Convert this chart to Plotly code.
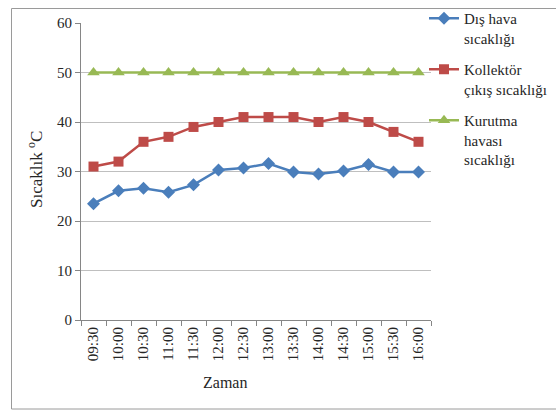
import plotly.graph_objects as go

# Time of day (half-hour steps)
times = ["09:30", "10:00", "10:30", "11:00", "11:30", "12:00", "12:30",
         "13:00", "13:30", "14:00", "14:30", "15:00", "15:30", "16:00"]

# Temperatures in °C
dis_hava = [23.5, 26.1, 26.6, 25.8, 27.3, 30.3, 30.7, 31.6, 29.9, 29.5, 30.1, 31.4, 29.9, 29.9]
kollektor = [31, 32, 36, 37, 39, 40, 41, 41, 41, 40, 41, 40, 38, 36]
kurutma = [50, 50, 50, 50, 50, 50, 50, 50, 50, 50, 50, 50, 50, 50]

series_names = ["Dış hava<br>sıcaklığı", "Kollektör<br>çıkış sıcaklığı", "Kurutma<br>havası<br>sıcaklığı"]

FONT = "Liberation Serif, DejaVu Serif, serif"
TXT = "#262626"
W, H = 556, 410
L, R, T, B = 81, 125, 23, 90
pw, ph = W - L - R, H - T - B


def px_x(px):
    return (px - L) / pw


def px_y(py):
    return (H - B - py) / ph


fig = go.Figure()
fig.add_trace(go.Scatter(
    x=times, y=dis_hava, name=series_names[0], mode="lines+markers", legendgroup="a",
    line=dict(color="#4A7EBB", width=2.5),
    marker=dict(symbol="diamond", size=10, color="#4A7EBB"),
))
fig.add_trace(go.Scatter(
    x=times, y=kollektor, name=series_names[1], mode="lines+markers", legendgroup="b",
    line=dict(color="#BE4B48", width=2.5),
    marker=dict(symbol="square", size=10, color="#BE4B48"),
))
fig.add_trace(go.Scatter(
    x=times, y=kurutma, name=series_names[2], mode="lines+markers", legendgroup="c",
    line=dict(color="#98B954", width=2.5),
    marker=dict(symbol="triangle-up", size=11, color="#98B954"),
))

fig.update_layout(
    width=W, height=H,
    margin=dict(l=L, r=R, t=T, b=B, autoexpand=False),
    paper_bgcolor="white", plot_bgcolor="white",
    font=dict(family=FONT, size=15, color=TXT),
    showlegend=True,
    legend=dict(
        x=px_x(424), y=px_y(2), xanchor="left", yanchor="top",
        font=dict(family=FONT, size=15, color=TXT),
        tracegroupgap=9, valign="top", itemwidth=30,
        bgcolor="rgba(0,0,0,0)",
    ),
    xaxis=dict(
        type="category", range=[-0.5, 13.5],
        tickson="boundaries", ticks="outside", ticklen=5, tickcolor="#868686",
        showline=True, linecolor="#868686", linewidth=1,
        showgrid=False, tickangle=-90,
        tickfont=dict(family=FONT, size=15, color=TXT),
    ),
    yaxis=dict(
        range=[0, 60], dtick=10, ticks="outside", ticklen=5, tickcolor="#868686",
        showline=True, linecolor="#868686", linewidth=1,
        showgrid=True, gridcolor="#BFBFBF", gridwidth=1, zeroline=False,
        tickfont=dict(family=FONT, size=15, color=TXT),
    ),
    annotations=[
        dict(text="Zaman", x=px_x(225), y=px_y(382), xref="paper", yref="paper",
             showarrow=False, font=dict(family=FONT, size=16, color=TXT),
             xanchor="center", yanchor="middle"),
        dict(text="Sıcaklık <sup>o</sup>C", x=px_x(35), y=px_y(170), xref="paper", yref="paper",
             showarrow=False, textangle=-90, font=dict(family=FONT, size=17, color=TXT),
             xanchor="center", yanchor="middle"),
    ],
    shapes=[
        dict(type="rect", xref="paper", yref="paper",
             x0=px_x(11.5), x1=px_x(600), y0=px_y(409), y1=px_y(8.5),
             line=dict(color="#9A9A9A", width=1), fillcolor="rgba(0,0,0,0)", layer="below"),
    ],
)

fig.write_html("out.html")
